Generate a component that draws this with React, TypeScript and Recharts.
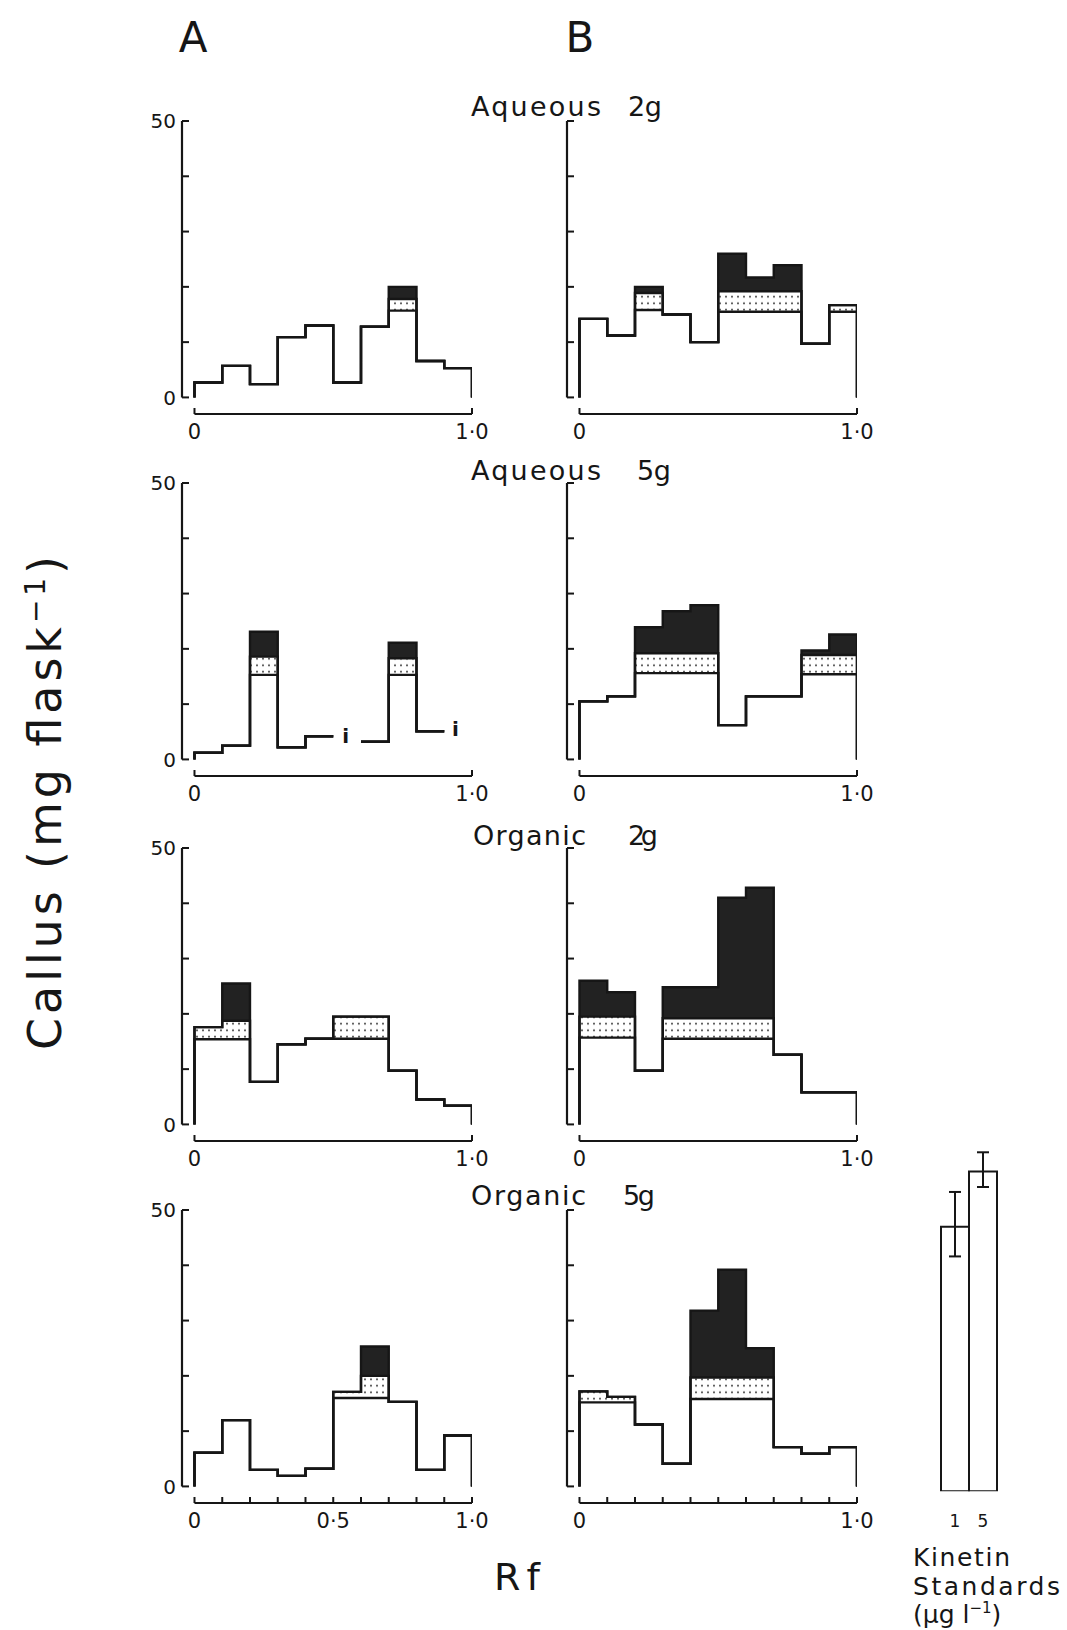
import React from 'react';
import {
  ComposedChart,
  Area,
  Line,
  XAxis,
  YAxis,
  ReferenceLine,
  Scatter,
  BarChart,
  Bar,
  ErrorBar
} from 'recharts';

const INK = '#161616';
const DARK = '#222222';
const FONT = '"DejaVu Sans", Verdana, sans-serif';

// Rf zones: ten bins of width 0.1
const rfBins = [0, 0.1, 0.2, 0.3, 0.4, 0.5, 0.6, 0.7, 0.8, 0.9];
const BIN = 0.1;
const rfEndTicks = [0, 1];
const rfAllTicks = [0, 0.1, 0.2, 0.3, 0.4, 0.5, 0.6, 0.7, 0.8, 0.9, 1];
const callusTicks = [0, 10, 20, 30, 40, 50];

// callus yield (mg flask-1) per zone: plain part, dotted part, dark part
const aq2A_plain = [2.7, 5.7, 2.4, 10.9, 13.0, 2.7, 12.8, 15.7, 6.6, 5.3];
const aq2A_dots = [0, 0, 0, 0, 0, 0, 0, 2.1, 0, 0];
const aq2A_dark = [0, 0, 0, 0, 0, 0, 0, 2.2, 0, 0];

const aq2B_plain = [14.2, 11.2, 15.8, 15.0, 10.0, 15.5, 15.5, 15.5, 9.7, 15.5];
const aq2B_dots = [0, 0, 3.1, 0, 0, 3.7, 3.7, 3.7, 0, 1.2];
const aq2B_dark = [0, 0, 1.1, 0, 0, 6.8, 2.5, 4.7, 0, 0];

const aq5A_plain = [1.2, 2.5, 15.3, 2.2, 4.2, null, 3.2, 15.3, 5.1, null];
const aq5A_dots = [0, 0, 3.3, 0, 0, 0, 0, 3.0, 0, 0];
const aq5A_dark = [0, 0, 4.5, 0, 0, 0, 0, 2.8, 0, 0];
// small "i" marks in the empty zones
const aq5A_marks = [
  { x: 0.545, y: 3.0 },
  { x: 0.94, y: 4.2 }
];

const aq5B_plain = [10.5, 11.4, 15.6, 15.6, 15.6, 6.2, 11.4, 11.4, 15.4, 15.4];
const aq5B_dots = [0, 0, 3.6, 3.6, 3.6, 0, 0, 0, 3.5, 3.5];
const aq5B_dark = [0, 0, 4.7, 7.6, 8.7, 0, 0, 0, 0.8, 3.7];

const org2A_plain = [15.4, 15.4, 7.7, 14.5, 15.5, 15.5, 15.5, 9.7, 4.5, 3.4];
const org2A_dots = [2.2, 3.35, 0, 0, 0, 4.0, 4.0, 0, 0, 0];
const org2A_dark = [0, 6.75, 0, 0, 0, 0, 0, 0, 0, 0];

const org2B_plain = [15.7, 15.7, 9.7, 15.5, 15.5, 15.5, 15.5, 12.6, 5.8, 5.8];
const org2B_dots = [3.8, 3.8, 0, 3.7, 3.7, 3.7, 3.7, 0, 0, 0];
const org2B_dark = [6.5, 4.4, 0, 5.6, 5.6, 21.8, 23.6, 0, 0, 0];

const org5A_plain = [6.1, 12.0, 3.0, 1.9, 3.2, 16.0, 16.0, 15.3, 3.0, 9.2];
const org5A_dots = [0, 0, 0, 0, 0, 1.1, 4.0, 0, 0, 0];
const org5A_dark = [0, 0, 0, 0, 0, 0, 5.3, 0, 0, 0];

const org5B_plain = [15.2, 15.2, 11.2, 4.1, 15.8, 15.8, 15.8, 7.1, 5.9, 7.1];
const org5B_dots = [2.0, 1.0, 0, 0, 3.9, 3.9, 3.9, 0, 0, 0];
const org5B_dark = [0, 0, 0, 0, 12.1, 19.5, 5.3, 0, 0, 0];

// kinetin standards
const kinetinDoses = ['1', '5'];
const kinetinMeans = [48, 58];
const kinetinErrLow = [5.4, 2.8];
const kinetinErrHigh = [6.3, 3.5];

const rowTitles = [
  ['Aqueous', '2g'],
  ['Aqueous', '5g'],
  ['Organic', '2g'],
  ['Organic', '5g']
];

// geometry
const X_MIN = -0.045;
const Y_MIN = -3;
const PLOT_W = 290;
const PLOT_H = 293;
const Y_AXIS_W = 42;
const X_AXIS_H = 40;
const M_TOP = 16;
const M_RIGHT = 24;
const colAxisX = [182, 567];
const rowTop50 = [121, 483, 848, 1210];

type Row = { x: number; plain: number | null; mid: number | null; top: number | null };

// turn per-bin values into corner points so the outlines come out stepped
function buildSteps(plain: (number | null)[], dots: number[], dark: number[]): Row[] {
  const rows: Row[] = [];
  if (plain[0] != null) rows.push({ x: 0, plain: 0, mid: 0, top: 0 });
  plain.forEach((p, i) => {
    const x0 = rfBins[i];
    const x1 = x0 + BIN;
    if (p == null) {
      rows.push({ x: x0, plain: null, mid: null, top: null });
      rows.push({ x: x1, plain: null, mid: null, top: null });
      return;
    }
    const mid = p + dots[i];
    const top = mid + dark[i];
    rows.push({ x: x0, plain: p, mid, top });
    rows.push({ x: x1, plain: p, mid, top });
  });
  if (plain[plain.length - 1] != null) rows.push({ x: 1, plain: 0, mid: 0, top: 0 });
  return rows;
}

const darkBand = (r: Row) => (r.top == null ? null : [r.mid, r.top]);
const dotBand = (r: Row) => (r.mid == null ? null : [r.plain, r.mid]);

const yTick = (labelled: boolean) => (props: any) => {
  const { x, y, payload } = props;
  const v = payload.value;
  return (
    <g>
      <line x1={x} y1={y} x2={x + 7} y2={y} stroke={INK} strokeWidth={2} />
      {labelled && (v === 0 || v === 50) && (
        <text x={x - 6} y={y} dy="0.36em" textAnchor="end" fontSize={20} fontFamily={FONT} fill={INK}>
          {v}
        </text>
      )}
    </g>
  );
};

const xTick = (labels: Record<string, string>) => (props: any) => {
  const { x, y, payload } = props;
  const label = labels[Number(payload.value).toFixed(1)];
  return (
    <g>
      <line x1={x} y1={y} x2={x} y2={y - 6} stroke={INK} strokeWidth={2} />
      {label && (
        <text x={x} y={y + 25} textAnchor="middle" fontSize={21} fontFamily={FONT} fill={INK}>
          {label}
        </text>
      )}
    </g>
  );
};

const iMark = (props: any) => {
  const { cx, cy } = props;
  return (
    <text x={cx} y={cy} textAnchor="middle" fontSize={20} fontWeight="bold" fontFamily={FONT} fill={INK}>
      i
    </text>
  );
};

interface PanelProps {
  col: number;
  row: number;
  data: Row[];
  ticks: number[];
  labels: Record<string, string>;
  marks?: { x: number; y: number }[];
}

const Panel: React.FC<PanelProps> = ({ col, row, data, ticks, labels, marks }) => {
  const left = colAxisX[col] - Y_AXIS_W;
  const top = rowTop50[row] - M_TOP;
  const width = Y_AXIS_W + PLOT_W + M_RIGHT;
  const height = M_TOP + PLOT_H + X_AXIS_H;
  const edge = {
    type: 'linear' as const,
    stroke: INK,
    strokeWidth: 2.4,
    dot: false,
    activeDot: false,
    connectNulls: false,
    isAnimationActive: false
  };
  return (
    <div style={{ position: 'absolute', left, top }}>
      <ComposedChart width={width} height={height} data={data} margin={{ top: M_TOP, right: M_RIGHT, left: 0, bottom: 0 }}>
        <XAxis
          type="number"
          dataKey="x"
          domain={[X_MIN, 1]}
          allowDataOverflow
          ticks={ticks}
          interval={0}
          height={X_AXIS_H}
          axisLine={false}
          tickLine={false}
          tickSize={0}
          tickMargin={0}
          tick={xTick(labels)}
        />
        <YAxis
          type="number"
          domain={[Y_MIN, 50]}
          allowDataOverflow
          ticks={callusTicks}
          interval={0}
          width={Y_AXIS_W}
          axisLine={false}
          tickLine={false}
          tickSize={0}
          tickMargin={0}
          tick={yTick(col === 0)}
        />
        <Area type="linear" dataKey={darkBand} stroke="none" fill={DARK} fillOpacity={1} connectNulls={false} isAnimationActive={false} dot={false} activeDot={false} />
        <Area type="linear" dataKey={dotBand} stroke="none" fill="url(#dotFill)" fillOpacity={1} connectNulls={false} isAnimationActive={false} dot={false} activeDot={false} />
        <Line dataKey="top" {...edge} />
        <Line dataKey="mid" {...edge} />
        <Line dataKey="plain" {...edge} />
        <ReferenceLine
          segment={[{ x: X_MIN, y: 0 }, { x: X_MIN, y: 50 }]}
          stroke={INK}
          strokeWidth={2.2}
          ifOverflow="visible"
        />
        <ReferenceLine
          segment={[{ x: 0, y: Y_MIN }, { x: 1, y: Y_MIN }]}
          stroke={INK}
          strokeWidth={2}
          ifOverflow="visible"
        />
        {marks && <Scatter data={marks} dataKey="y" shape={iMark} isAnimationActive={false} />}
      </ComposedChart>
    </div>
  );
};

const kinetinData = kinetinDoses.map((d, i) => ({
  dose: d,
  mean: kinetinMeans[i],
  err: [kinetinErrLow[i], kinetinErrHigh[i]]
}));

const kinetinTick = (props: any) => {
  const { x, y, payload } = props;
  return (
    <text x={x} y={y + 36} textAnchor="middle" fontSize={17} fontFamily={FONT} fill={INK}>
      {payload.value}
    </text>
  );
};

const KinetinChart: React.FC = () => {
  const plotH = 65 * 5.51;
  return (
    <div style={{ position: 'absolute', left: 940, top: 1491 - plotH - 10 }}>
      <BarChart
        width={80}
        height={10 + plotH + 45}
        data={kinetinData}
        margin={{ top: 10, right: 23, left: 1, bottom: 0 }}
        barCategoryGap={0}
      >
        <XAxis
          dataKey="dose"
          height={45}
          axisLine={false}
          tickLine={false}
          tickSize={0}
          tickMargin={0}
          interval={0}
          tick={kinetinTick}
        />
        <YAxis hide domain={[0, 65]} allowDataOverflow />
        <Bar dataKey="mean" fill="#ffffff" stroke={INK} strokeWidth={2} isAnimationActive={false}>
          <ErrorBar dataKey="err" width={6} stroke={INK} strokeWidth={2} direction="y" />
        </Bar>
      </BarChart>
    </div>
  );
};

const titleWordX = [471, 471, 473, 471];
const titleWordLen = [130, 130, 113, 115];
const titleDoseX = [628, 637, 628, 623];
const titleDoseLen = [34, 34, 30, 32];
const titleBase = [116, 480, 845, 1205];

const App: React.FC = () => {
  const endLabels = { '0.0': '0', '1.0': '1·0' };
  const midLabels = { '0.0': '0', '0.5': '0·5', '1.0': '1·0' };
  return (
    <div
      style={{
        position: 'absolute',
        left: 0,
        top: 0,
        width: 1067,
        height: 1630,
        background: '#ffffff',
        fontFamily: FONT
      }}
    >
      <svg width={0} height={0} style={{ position: 'absolute' }}>
        <defs>
          <pattern id="dotFill" width="6" height="6.5" patternUnits="userSpaceOnUse">
            <rect width="6" height="6.5" fill="#ffffff" />
            <circle cx="3" cy="3.2" r="0.9" fill={INK} />
          </pattern>
        </defs>
      </svg>

      <Panel col={0} row={0} data={buildSteps(aq2A_plain, aq2A_dots, aq2A_dark)} ticks={rfEndTicks} labels={endLabels} />
      <Panel col={1} row={0} data={buildSteps(aq2B_plain, aq2B_dots, aq2B_dark)} ticks={rfEndTicks} labels={endLabels} />
      <Panel
        col={0}
        row={1}
        data={buildSteps(aq5A_plain, aq5A_dots, aq5A_dark)}
        ticks={rfEndTicks}
        labels={endLabels}
        marks={aq5A_marks}
      />
      <Panel col={1} row={1} data={buildSteps(aq5B_plain, aq5B_dots, aq5B_dark)} ticks={rfEndTicks} labels={endLabels} />
      <Panel col={0} row={2} data={buildSteps(org2A_plain, org2A_dots, org2A_dark)} ticks={rfEndTicks} labels={endLabels} />
      <Panel col={1} row={2} data={buildSteps(org2B_plain, org2B_dots, org2B_dark)} ticks={rfEndTicks} labels={endLabels} />
      <Panel col={0} row={3} data={buildSteps(org5A_plain, org5A_dots, org5A_dark)} ticks={rfAllTicks} labels={midLabels} />
      <Panel col={1} row={3} data={buildSteps(org5B_plain, org5B_dots, org5B_dark)} ticks={rfAllTicks} labels={endLabels} />

      <KinetinChart />

      <svg
        width={1067}
        height={1630}
        style={{ position: 'absolute', left: 0, top: 0, pointerEvents: 'none' }}
        fontFamily={FONT}
        fill={INK}
      >
        <text x={193} y={52} textAnchor="middle" fontSize={42}>A</text>
        <text x={580} y={52} textAnchor="middle" fontSize={42}>B</text>

        {rowTitles.map(([word, dose], i) => (
          <g key={word + dose + i}>
            <text x={titleWordX[i]} y={titleBase[i]} fontSize={27} textLength={titleWordLen[i]} lengthAdjust="spacing">
              {word}
            </text>
            <text x={titleDoseX[i]} y={titleBase[i]} fontSize={27} textLength={titleDoseLen[i]} lengthAdjust="spacing">
              {dose}
            </text>
          </g>
        ))}

        <text
          x={61}
          y={803}
          transform="rotate(-90, 61, 803)"
          textAnchor="middle"
          fontSize={46}
          textLength={494}
          lengthAdjust="spacing"
        >
          Callus (mg flask
          <tspan dy={-16} fontSize={28}>−1</tspan>
          <tspan dy={16}>)</tspan>
        </text>

        <text x={494} y={1590} fontSize={38}>
          R<tspan dx={6}>f</tspan>
        </text>

        <text x={913} y={1566} fontSize={25} textLength={97} lengthAdjust="spacing">Kinetin</text>
        <text x={913} y={1595} fontSize={25} textLength={147} lengthAdjust="spacing">Standards</text>
        <text x={913} y={1623} fontSize={25}>
          (µg l<tspan dy={-10} fontSize={15}>−1</tspan>
          <tspan dy={10}>)</tspan>
        </text>
      </svg>
    </div>
  );
};

export default App;
